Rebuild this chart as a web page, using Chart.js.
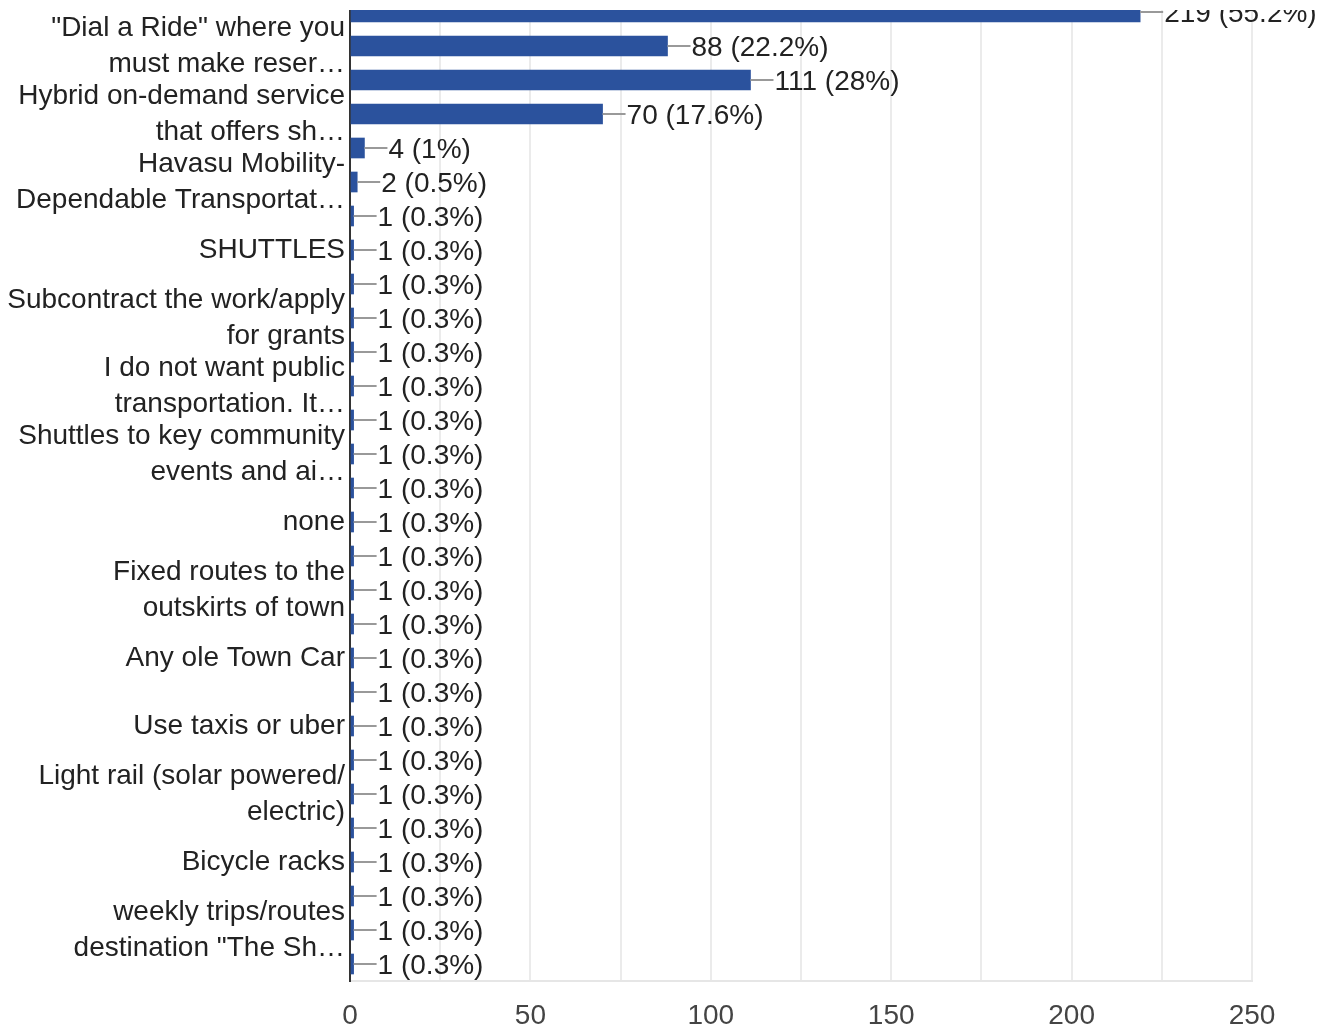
<!DOCTYPE html>
<html>
<head>
<meta charset="utf-8">
<script src="https://cdn.jsdelivr.net/npm/chart.js@4.4.1/dist/chart.umd.min.js"></script>
<style>
  html, body { margin: 0; padding: 0; background: #fff; }
  #frame { position: absolute; left: 0; top: 10px; width: 1322px; height: 1019px; overflow: hidden; }
  #chart { position: absolute; left: 0; top: -25px; }
</style>
</head>
<body>
<div id="frame">
  <canvas id="chart" width="1322" height="1044"></canvas>
</div>
<script>
// every other answer gets a label on the axis, the rest stay blank
const categories = [
  "",
  ['"Dial a Ride" where you', "must make reser…"],
  "",
  ["Hybrid on-demand service", "that offers sh…"],
  "",
  ["Havasu Mobility-", "Dependable Transportat…"],
  "",
  "SHUTTLES",
  "",
  ["Subcontract the work/apply", "for grants"],
  "",
  ["I do not want public", "transportation. It…"],
  "",
  ["Shuttles to key community", "events and ai…"],
  "",
  "none",
  "",
  ["Fixed routes to the", "outskirts of town"],
  "",
  "Any ole Town Car",
  "",
  "Use taxis or uber",
  "",
  ["Light rail (solar powered/", "electric)"],
  "",
  "Bicycle racks",
  "",
  ["weekly trips/routes", 'destination "The Sh…'],
  "",
];

const counts = [
  219, 88, 111, 70, 4, 2, 1, 1, 1, 1,
  1, 1, 1, 1, 1, 1, 1, 1, 1, 1,
  1, 1, 1, 1, 1, 1, 1, 1, 1,
];

const respondents = 397;
const xTicks = [0, 50, 100, 150, 200, 250];

const FONT = "'Liberation Sans', Arial, sans-serif";

const valueLabels = {
  id: "valueLabels",
  afterDatasetsDraw(chart) {
    const ctx = chart.ctx;
    const meta = chart.getDatasetMeta(0);
    ctx.save();
    ctx.font = "28px " + FONT;
    ctx.textBaseline = "middle";
    ctx.textAlign = "left";
    meta.data.forEach((bar, i) => {
      const v = counts[i];
      const pct = Math.round((v / respondents) * 1000) / 10;
      ctx.strokeStyle = "#999";
      ctx.lineWidth = 2;
      ctx.beginPath();
      ctx.moveTo(bar.x, bar.y);
      ctx.lineTo(bar.x + 23, bar.y);
      ctx.stroke();
      ctx.fillStyle = "#222";
      ctx.fillText(v + " (" + pct + "%)", bar.x + 24, bar.y + 2);
    });
    ctx.restore();
  },
};

new Chart(document.getElementById("chart"), {
  type: "bar",
  data: {
    labels: categories,
    datasets: [
      {
        data: counts,
        backgroundColor: "#2b529d",
        barThickness: 20,
      },
    ],
  },
  options: {
    indexAxis: "y",
    responsive: false,
    animation: false,
    layout: { padding: { top: 10, right: 70, left: 0, bottom: 0 } },
    plugins: {
      legend: { display: false },
      tooltip: { enabled: false },
    },
    scales: {
      x: {
        min: 0,
        max: 250,
        ticks: {
          stepSize: 25,
          padding: 18,
          color: "#444",
          font: { family: FONT, size: 28 },
          callback: (v) => (xTicks.includes(v) ? v : ""),
        },
        grid: { color: "#ebebeb", lineWidth: 2, drawTicks: false, tickLength: 0 },
        border: { color: "#e6e6e6", width: 2 },
        afterFit: (scale) => { scale.height = 48; },
      },
      y: {
        ticks: {
          autoSkip: false,
          padding: 5,
          color: "#222",
          font: { family: FONT, size: 28, lineHeight: 1.3 },
        },
        grid: { drawOnChartArea: false, drawTicks: false, tickLength: 0 },
        border: { color: "#333", width: 2 },
        afterFit: (scale) => {
          scale.width = 350;
          scale.paddingTop = 0;
          scale.paddingBottom = 0;
        },
      },
    },
  },
  plugins: [valueLabels],
});
</script>
</body>
</html>
